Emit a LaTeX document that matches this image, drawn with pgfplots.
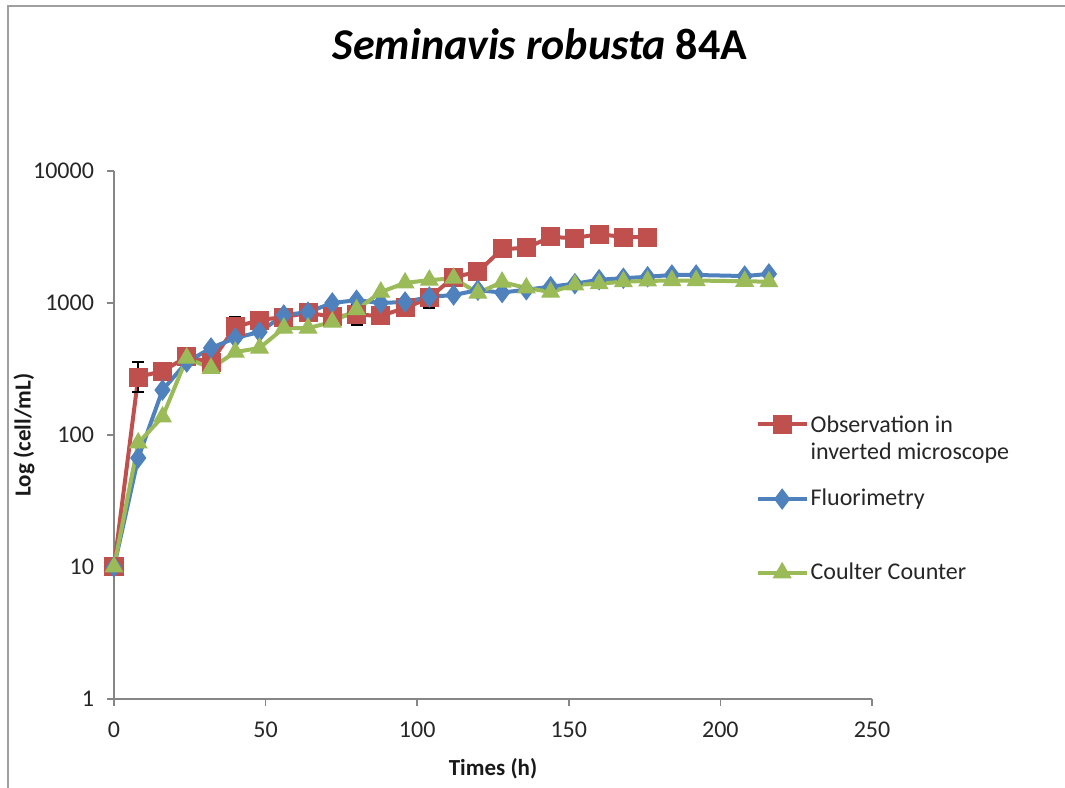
\documentclass[border=0pt]{standalone}
\usepackage{pgfplots}
\pgfplotsset{compat=1.18}
\usepackage{fontspec}
\setmainfont{Carlito}
\definecolor{xred}{HTML}{C0504D}
\definecolor{xblue}{HTML}{4F81BD}
\definecolor{xgreen}{HTML}{9BBB59}
\definecolor{axgray}{HTML}{868686}
\newcommand{\legtxt}[2]{\begin{tabular}[t]{@{}l@{}}#1\\#2\mbox{}\end{tabular}}
\begin{document}
\begin{tikzpicture}
\useasboundingbox (0,0) rectangle (532.5pt,393.5pt);
\draw[gray!75, line width=1.2pt] (4pt,-2pt) -- (4pt,390.5pt) -- (540pt,390.5pt);
\begin{axis}[
  at={(57pt,44pt)}, anchor=south west, scale only axis,
  width=379pt, height=264pt,
  xmin=0, xmax=250, ymode=log, ymin=1, ymax=10000,
  xtick={0,50,100,150,200,250},
  ytick={1,10,100,1000,10000}, yticklabels={1,10,100,1000,10000},
  yminorticks=false, xminorticks=false,
  axis lines*=left,
  axis line style={axgray, line width=0.8pt},
  tick style={axgray, line width=0.8pt},
  tick align=outside, major tick length=3.5pt,
  ticklabel style={font=\fontsize{12}{14}\selectfont, text=black!85},
  xticklabel style={yshift=-4.5pt},
  yticklabel style={xshift=-3pt},
  /pgf/number format/assume math mode=true,
  xlabel={Times (h)}, ylabel={Log (cell/mL)},
  every axis x label/.style={at={(axis description cs:0.5,-0.1458)}, anchor=base},
  every axis y label/.style={at={(axis description cs:-0.1100,0.5)}, rotate=90, anchor=base},
  label style={font=\bfseries\fontsize{11.5}{14}\selectfont, text=black!90},
  title={\textit{Seminavis robusta} 84A},
  title style={at={(axis description cs:0.562,1.1875)}, anchor=base, font=\bfseries\fontsize{22}{26}\selectfont},
  clip=false,
  legend cell align=left,
  legend style={at={(axis description cs:0.846,0.5455)}, anchor=north west, draw=none, fill=none,
    inner sep=0pt, row sep=25pt, font=\fontsize{12}{13.5}\selectfont, text=black!85,
    nodes={inner sep=1pt}},
  legend image code/.code={\draw[mark repeat=2,mark phase=2,#1] plot coordinates {(0pt,0pt) (12.25pt,0pt) (24.5pt,0pt)};},
]
\addplot[xred, line width=2pt, mark=square*, mark size=4.5pt, mark options={solid, fill=xred, draw=xred, line width=0.5pt},
  error bars/.cd, y dir=both, y explicit,
  error bar style={black, line width=1pt},
  error mark options={rotate=90, mark size=3pt, black, line width=1.2pt}]
coordinates {
(0,10)
(8,275) += (0,82) -= (0,64)
(16,305)
(24,390)
(32,357)
(40,658) += (0,125) -= (0,110)
(48,743)
(56,783)
(64,840)
(72,790)
(80,815) += (0,150) -= (0,130)
(88,800)
(96,917)
(104,1092) += (0,190) -= (0,175)
(112,1573)
(120,1718)
(128,2565)
(136,2610)
(144,3162)
(152,3100)
(160,3330)
(168,3160)
(176,3160)
};
\addlegendentry{\legtxt{Observation in}{inverted microscope}}
\addplot[xblue, line width=2pt, mark=diamond*, mark size=5pt, mark options={solid, fill=xblue, draw=xblue, line width=0.5pt}]
coordinates {
(0,10) (8,67) (16,219) (24,357) (32,456) (40,543) (48,603) (56,811) (64,852)
(72,1000) (80,1050) (88,1000) (96,1018) (104,1110) (112,1150) (120,1250)
(128,1200) (136,1260) (144,1330) (152,1400) (160,1500) (168,1540) (176,1580)
(184,1630) (192,1630) (208,1600) (216,1660)
};
\addlegendentry{Fluorimetry}
\addplot[xgreen, line width=2pt, mark=triangle*, mark size=5pt, mark options={solid, fill=xgreen, draw=xgreen, line width=0.5pt}]
coordinates {
(0,10) (8,87) (16,137) (24,383) (32,320) (40,425) (48,456) (56,646) (64,646)
(72,717) (80,890) (88,1210) (96,1420) (104,1490) (112,1540) (120,1190)
(128,1440) (136,1300) (144,1210) (152,1370) (160,1400) (168,1450) (176,1470)
(184,1480) (192,1480) (208,1460) (216,1450)
};
\addlegendentry{Coulter Counter}
\end{axis}
\end{tikzpicture}
\end{document}
